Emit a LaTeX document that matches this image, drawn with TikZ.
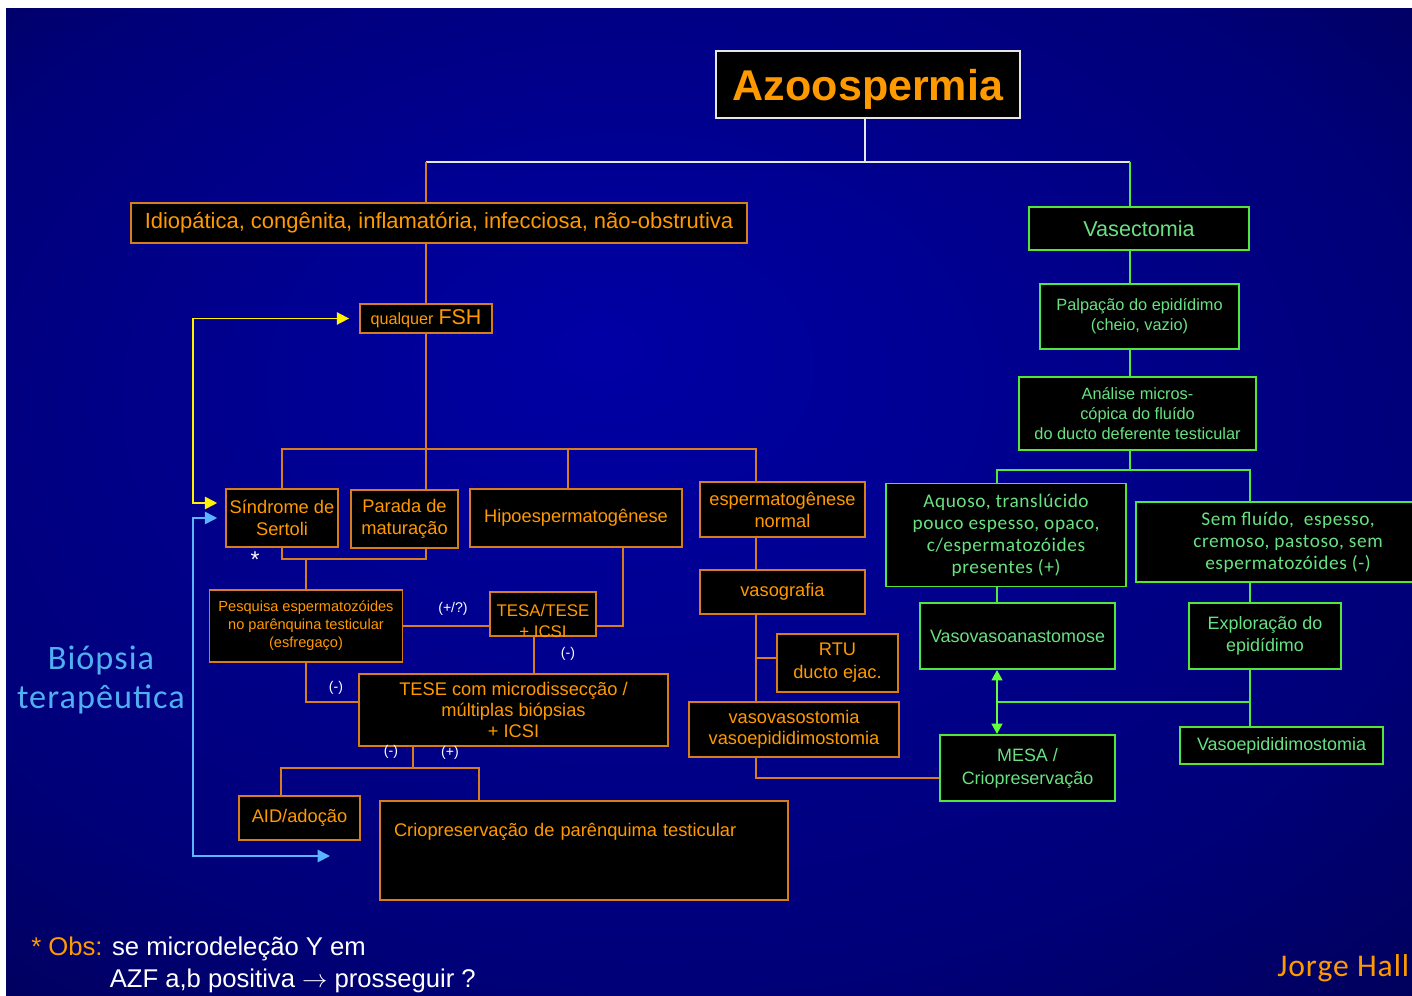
\documentclass[tikz,border=0pt]{standalone}
\usepackage{fontspec}
\setmainfont{Liberation Sans}
\newfontfamily\gillfont[LetterSpace=3]{Carlito}
\usetikzlibrary{arrows.meta}

\definecolor{bgin}{RGB}{0,0,165}
\definecolor{bgmid}{RGB}{0,0,120}
\definecolor{bgout}{RGB}{0,0,55}
\definecolor{txtorange}{RGB}{255,153,0}
\definecolor{boxorange}{RGB}{215,125,30}
\definecolor{grnline}{RGB}{80,230,60}
\definecolor{grntext}{RGB}{105,225,130}
\definecolor{grarrow}{RGB}{100,255,60}
\definecolor{linewhite}{RGB}{230,230,230}
\definecolor{cyanlink}{RGB}{90,180,255}
\definecolor{biocol}{RGB}{80,175,240}

\pgfdeclareradialshading{slideglow}{\pgfpoint{-4bp}{8bp}}{color(0bp)=(bgin); color(28bp)=(bgmid); color(50bp)=(bgout)}

\tikzset{sz/.style 2 args={minimum width=#1*0.02cm, minimum height=#2*0.02cm}}

\begin{document}
\begin{tikzpicture}[
  x=0.02cm, y=-0.02cm,
  orbox/.style={draw=boxorange, fill=black, text=txtorange, line width=1pt,
    inner sep=0pt, align=center, font=\fontsize{10.4}{12.5}\selectfont},
  grbox/.style={orbox, draw=grnline, text=grntext},
  oline/.style={draw=boxorange, line width=1pt},
  gline/.style={draw=grnline, line width=1pt},
  wline/.style={draw=linewhite, line width=1pt},
  sign/.style={text=white, inner sep=0pt, font=\fontsize{8}{9}\selectfont},
  ylink/.style={draw=yellow, line width=1pt,
    {Triangle[length=7pt,width=7pt]}-{Triangle[length=7pt,width=7pt]},
    shorten <=4.5pt, shorten >=5.7pt},
  clink/.style={draw=cyanlink, line width=1pt,
    {Triangle[length=7pt,width=7pt]}-{Triangle[length=7pt,width=7pt]},
    shorten <=4.5pt},
  garrow/.style={draw=grarrow, line width=1.6pt,
    {Triangle[length=6pt,width=6pt]}-{Triangle[length=6pt,width=6pt]}}
]

\useasboundingbox (0,0) rectangle (1412,996);
\fill[white] (0,0) rectangle (1412,996);
\shade[shading=slideglow] (6,9) rectangle (1412,996);

% helper points for the elbow connectors
\coordinate (hub) at (865,162);
\coordinate (gcol) at (1130,0);
\coordinate (obar) at (0,449);
\coordinate (ocol) at (756,0);
\coordinate (hcol) at (568,0);
\coordinate (tcol) at (623,0);
\coordinate (tscol) at (534,0);
\coordinate (spbar) at (0,559);
\coordinate (tbar) at (413,768);
\coordinate (aidcol) at (281,0);
\coordinate (criocol) at (479,0);
\coordinate (gbar) at (0,470);
\coordinate (acol) at (997,0);
\coordinate (scol) at (1250,0);
\coordinate (gmid) at (0,702);
\coordinate (ycorner) at (193,319);
\coordinate (ccorner) at (193,856);
\coordinate (cend) at (330,856);

% title and first split
\node[draw=linewhite, fill=black, line width=1pt, inner sep=0pt, sz={304}{67}, text depth=0pt,
  text=txtorange, font=\bfseries\fontsize{24.5}{28}\selectfont] (azoo) at (868,84.5) {Azoospermia};
\node[orbox, sz={616}{40}, font=\fontsize{12.5}{14}\selectfont] (idio) at (439,223)
  {Idiopática, congênita, inflamatória, infecciosa, não-obstrutiva};
\node[grbox, sz={220}{43}, font=\fontsize{12.3}{14}\selectfont] (vasec) at (1139,228.5) {Vasectomia};

% left branch
\node[orbox, sz={132}{29}] (fsh) at (426,318.5)
  {{\fontsize{9.2}{11}\selectfont qualquer} {\fontsize{12.2}{14}\selectfont FSH}};
\node[orbox, sz={112}{58}] (sertoli) at (282,518) {Síndrome de\\Sertoli};
\node[orbox, sz={107}{58}] (parada) at (404.5,519) {Parada de\\maturação};
\node[orbox, sz={212}{58}] (hipo) at (576,518) {Hipoespermatogênese};
\node[orbox, sz={165}{55}] (normal) at (782.5,509.5) {espermatogênese\\normal};
\node[orbox, sz={193}{72}, font=\fontsize{8.3}{10.2}\selectfont] (pesq) at (306,626)
  {Pesquisa espermatozóides\\no parênquina testicular\\(esfregaço)};
\node[orbox, sz={106}{44}] (tesa) at (543,614) {};
\node[text=txtorange, align=center, inner sep=0pt, font=\fontsize{9.6}{12}\selectfont] (tesatxt) at (543,621)
  {TESA/TESE\\+ ICSI};
\node[orbox, sz={309}{72}, font=\fontsize{10.4}{12.2}\selectfont] (tese) at (513.5,710)
  {TESE com microdissecção /\\múltiplas biópsias\\+ ICSI};
\node[orbox, sz={121}{44}] (aid) at (299.5,818) {AID/adoção};
\node[orbox, sz={408}{99}, align=left, text width=7.6cm, text height=0.7cm, text depth=1.28cm] (crio) at (584,850.5)
  {Criopreservação de parênquima testicular};
\node[orbox, sz={165}{44}] (vasog) at (782.5,592) {vasografia};
\node[orbox, sz={121}{58}, font=\fontsize{10.4}{13}\selectfont] (rtu) at (837.5,663) {RTU\\ducto ejac.};
\node[orbox, sz={210}{55}, font=\fontsize{10.4}{12}\selectfont] (vvost) at (794,729.5) {vasovasostomia\\vasoepididimostomia};

% right branch
\node[grbox, sz={199}{65}, font=\fontsize{9.3}{11.3}\selectfont] (palp) at (1139.5,316.5)
  {Palpação do epidídimo\\(cheio, vazio)};
\node[grbox, sz={237}{73}, font=\fontsize{9.3}{11.3}\selectfont] (anal) at (1137.5,413.5)
  {Análise micros-\\cópica do fluído\\do ducto deferente testicular};
\node[grbox, sz={240}{103}, font=\gillfont\fontsize{11}{12.5}\selectfont] (aquoso) at (1006,535)
  {Aquoso, translúcido\\pouco espesso, opaco,\\c/espermatozóides\\presentes (+)};
\node[grbox, sz={304}{80}, font=\gillfont\fontsize{11}{12.5}\selectfont] (semfl) at (1288,542)
  {Sem fluído,\ \ espesso,\\cremoso, pastoso, sem\\espermatozóides (-)};
\node[grbox, sz={195}{66}, font=\fontsize{10.2}{12}\selectfont] (vvanast) at (1017.5,636) {Vasovasoanastomose};
\node[grbox, sz={152}{66}, font=\fontsize{10.2}{12.5}\selectfont] (explo) at (1265,636) {Exploração do\\epidídimo};
\node[grbox, sz={175}{66}, font=\fontsize{10.2}{13}\selectfont] (mesa) at (1027.5,768) {MESA /\\Criopreservação};
\node[grbox, sz={203}{37}, font=\fontsize{10.2}{12}\selectfont] (vepid) at (1281.5,745.5) {Vasoepididimostomia};

% small result marks
\node[sign] (plusq) at (453,609) {(+/?)};
\node[sign] (negtesa) at (568,654) {(-)};
\node[sign] (negpesq) at (336,688) {(-)};
\node[sign] (negtese) at (391,752) {(-)};
\node[sign] (postese) at (450,753) {(+)};
\node[text=white, inner sep=0pt, font=\fontsize{13}{14}\selectfont] (star) at (255,560) {*};

% connectors
\draw[wline] (azoo.south -| hub) -- (hub);
\draw[wline] (hub -| fsh) -- (hub -| gcol);
\draw[oline] (idio.north -| fsh) -- (hub -| fsh);
\draw[gline] (vasec.north -| gcol) -- (hub -| gcol);
\draw[oline] (idio.south -| fsh) -- (fsh.north);
\draw[oline] (fsh.south) -- (parada.north -| fsh);
\draw[oline] (sertoli.north) |- (obar -| ocol) -- (normal.north -| ocol);
\draw[oline] (hipo.north -| hcol) -- (obar -| hcol);
\draw[oline] (sertoli.south) |- (spbar -| fsh) -- (parada.south -| fsh);
\draw[oline] (pesq.north) -- (pesq.north |- spbar);
\draw[oline] (pesq.east) -- (pesq.east -| tesa.west);
\draw[oline] (hipo.south -| tcol) |- (pesq.east -| tesa.east);
\draw[oline] (tesa.south -| tscol) -- (tese.north -| tscol);
\draw[oline] (pesq.south) |- ([yshift=0.16cm]tese.west);
\draw[oline] (tese.south -| tbar) -- (tbar);
\draw[oline] (aid.north -| aidcol) |- (tbar) -| (crio.north -| criocol);
\draw[oline] (normal.south -| ocol) -- (vasog.north -| ocol);
\draw[oline] (vasog.south -| ocol) -- (vvost.north -| ocol);
\draw[oline] ([yshift=0.1cm]rtu.west) -- ([yshift=0.1cm]rtu.west -| ocol);
\draw[oline] (vvost.south -| ocol) |- ([yshift=-0.2cm]mesa.west);

\draw[gline] (vasec.south -| gcol) -- (palp.north -| gcol);
\draw[gline] (palp.south -| gcol) -- (anal.north -| gcol);
\draw[gline] (anal.south -| gcol) -- (gbar -| gcol);
\draw[gline] (aquoso.north -| acol) |- (gbar -| scol) -- (semfl.north -| scol);
\draw[gline] (aquoso.south -| acol) -- (vvanast.north -| acol);
\draw[gline] (semfl.south -| scol) -- (explo.north -| scol);
\draw[gline] (explo.south -| scol) -- (vepid.north -| scol);
\draw[gline] (gmid -| acol) -- (gmid -| scol);
\draw[garrow] (vvanast.south -| acol) -- (mesa.north -| acol);

\draw[ylink] ([yshift=0.3cm]sertoli.west) -| (ycorner) |- (fsh.west);
\draw[clink] (sertoli.west) -| (ccorner) -- (cend);

% side and footer texts
\node[text=biocol, align=center, inner sep=0pt, font=\gillfont\fontsize{19.5}{22.7}\selectfont] (bio) at (101,680)
  {Biópsia\\terapêutica};
\node[anchor=north west, text=white, align=left, inner sep=0pt, font=\fontsize{14.6}{18}\selectfont] (obs) at (31,937)
  {{\color{txtorange}* Obs:} se microdeleção Y em\\\phantom{* Obs:} AZF a,b positiva $\rightarrow$ prosseguir ?};
\node[anchor=base west, text=txtorange, inner sep=0pt, font=\gillfont\fontsize{18}{20}\selectfont] (author) at (1277,976)
  {Jorge Hall};

\end{tikzpicture}
\end{document}
